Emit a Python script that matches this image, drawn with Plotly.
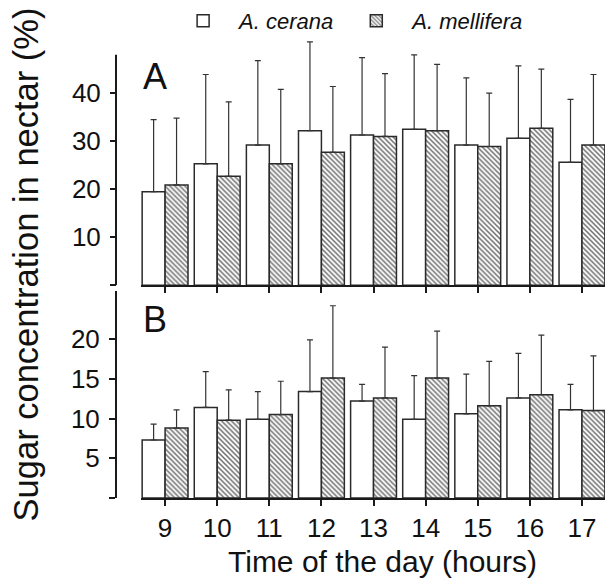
import plotly.graph_objects as go

hours = [9, 10, 11, 12, 13, 14, 15, 16, 17]
species = ["A. cerana", "A. mellifera"]

# Panel A (mean, SD)
cerana_A = [19.5, 25.3, 29.2, 32.2, 31.3, 32.5, 29.2, 30.6, 25.6]
cerana_A_sd = [15.0, 18.6, 17.6, 18.5, 16.1, 15.5, 14.0, 15.1, 13.1]
mellifera_A = [20.9, 22.7, 25.3, 27.7, 31.0, 32.2, 28.9, 32.7, 29.2]
mellifera_A_sd = [13.9, 15.5, 15.5, 13.7, 13.1, 13.8, 11.1, 12.3, 14.7]

# Panel B (mean, SD)
cerana_B = [7.3, 11.4, 9.9, 13.4, 12.2, 9.9, 10.6, 12.6, 11.1]
cerana_B_sd = [2.0, 4.5, 3.5, 6.5, 2.1, 5.5, 5.0, 5.6, 3.2]
mellifera_B = [8.8, 9.8, 10.5, 15.1, 12.6, 15.1, 11.6, 13.0, 11.0]
mellifera_B_sd = [2.3, 3.8, 4.2, 9.1, 6.4, 5.9, 5.6, 7.5, 6.9]

yticks_A = [10, 20, 30, 40]
yticks_B = [5, 10, 15, 20]
axis_top_A = 48

FONT = "Liberation Sans, Arial, sans-serif"
LINE = "#1a1a1a"
BARLINE = "#2a2a2a"
ERR = "#333333"


def bar(x, y, sd, name, hatched, xa, ya, show):
    marker = dict(color="white", line=dict(color=BARLINE, width=1.5))
    if hatched:
        marker["pattern"] = dict(shape="\\", fgcolor="#6a6a6a", bgcolor="white",
                                 size=3.5, solidity=0.42, fillmode="replace")
    return go.Bar(
        x=x, y=y, name=name, legendgroup=name, showlegend=show,
        xaxis=xa, yaxis=ya, marker=marker, cliponaxis=False,
        error_y=dict(type="data", symmetric=False, array=sd,
                     arrayminus=[0] * len(sd), color=ERR, thickness=1.2, width=3),
    )


fig = go.Figure()
fig.add_trace(bar(hours, cerana_A, cerana_A_sd, species[0], False, "x", "y", True))
fig.add_trace(bar(hours, mellifera_A, mellifera_A_sd, species[1], True, "x", "y", True))
fig.add_trace(bar(hours, cerana_B, cerana_B_sd, species[0], False, "x2", "y2", False))
fig.add_trace(bar(hours, mellifera_B, mellifera_B_sd, species[1], True, "x2", "y2", False))

tickfont = dict(family=FONT, size=26, color="#111111")
xcommon = dict(range=[8.533, 17.557], domain=[0.05, 1], showline=True, linecolor=LINE,
               linewidth=2, ticks="outside", ticklen=6, tickwidth=2, tickcolor=LINE,
               tickvals=hours, showgrid=False, zeroline=False, tickfont=tickfont,
               automargin=False)
ycommon = dict(linecolor=LINE, linewidth=2, ticks="outside", ticklen=6,
               tickwidth=2, tickcolor=LINE, showgrid=False, zeroline=False,
               anchor="free", position=0, tickfont=tickfont, ticklabelstandoff=4,
               automargin=False)

fig.update_layout(
    width=605, height=576,
    margin=dict(l=108, r=2, t=30, b=86, autoexpand=False),
    paper_bgcolor="white", plot_bgcolor="white",
    barmode="group", bargap=0.12, bargroupgap=0,
    xaxis=dict(xcommon, anchor="y", showticklabels=False),
    xaxis2=dict(xcommon, anchor="y2", ticktext=[str(h) for h in hours]),
    yaxis=dict(ycommon, showline=False, domain=[0.4624, 1], range=[0, 51.5],
               tickvals=[0] + yticks_A, ticktext=[""] + [str(v) for v in yticks_A]),
    yaxis2=dict(ycommon, showline=True, domain=[0, 0.4507], range=[0, 26.1],
                tickvals=[0] + yticks_B, ticktext=[""] + [str(v) for v in yticks_B]),
    showlegend=True,
    legend=dict(orientation="h", xref="container", x=0.263, xanchor="left",
                yref="paper", y=1.037, yanchor="middle",
                font=dict(family=FONT, size=22, style="italic", color="#111111"),
                itemwidth=62, bgcolor="rgba(0,0,0,0)"),
    font=dict(family=FONT, color="#111111"),
)

# Panel A y-axis line (stops at the axis top, error bars may rise above it)
fig.add_shape(type="line", xref="paper", yref="y", x0=0, x1=0, y0=0, y1=axis_top_A,
              line=dict(color=LINE, width=2))

fig.add_annotation(text="A", xref="paper", yref="paper", x=0.0505, y=0.9155, xanchor="left",
                   yanchor="middle", showarrow=False,
                   font=dict(size=36, family=FONT, color="#111111"))
fig.add_annotation(text="B", xref="paper", yref="paper", x=0.0505, y=0.387, xanchor="left",
                   yanchor="middle", showarrow=False,
                   font=dict(size=36, family=FONT, color="#111111"))
fig.add_annotation(text="Sugar concentration in nectar (%)", xref="paper", yref="paper",
                   x=-0.182, y=0.5076, xanchor="center", yanchor="middle", textangle=-90,
                   showarrow=False, font=dict(size=34.5, family=FONT, color="#111111"))
fig.add_annotation(text="Time of the day (hours)", xref="paper", yref="paper",
                   x=0.538, y=-0.139, xanchor="center", yanchor="middle", showarrow=False,
                   font=dict(size=30, family=FONT, color="#111111"))

fig.write_html("out.html")
